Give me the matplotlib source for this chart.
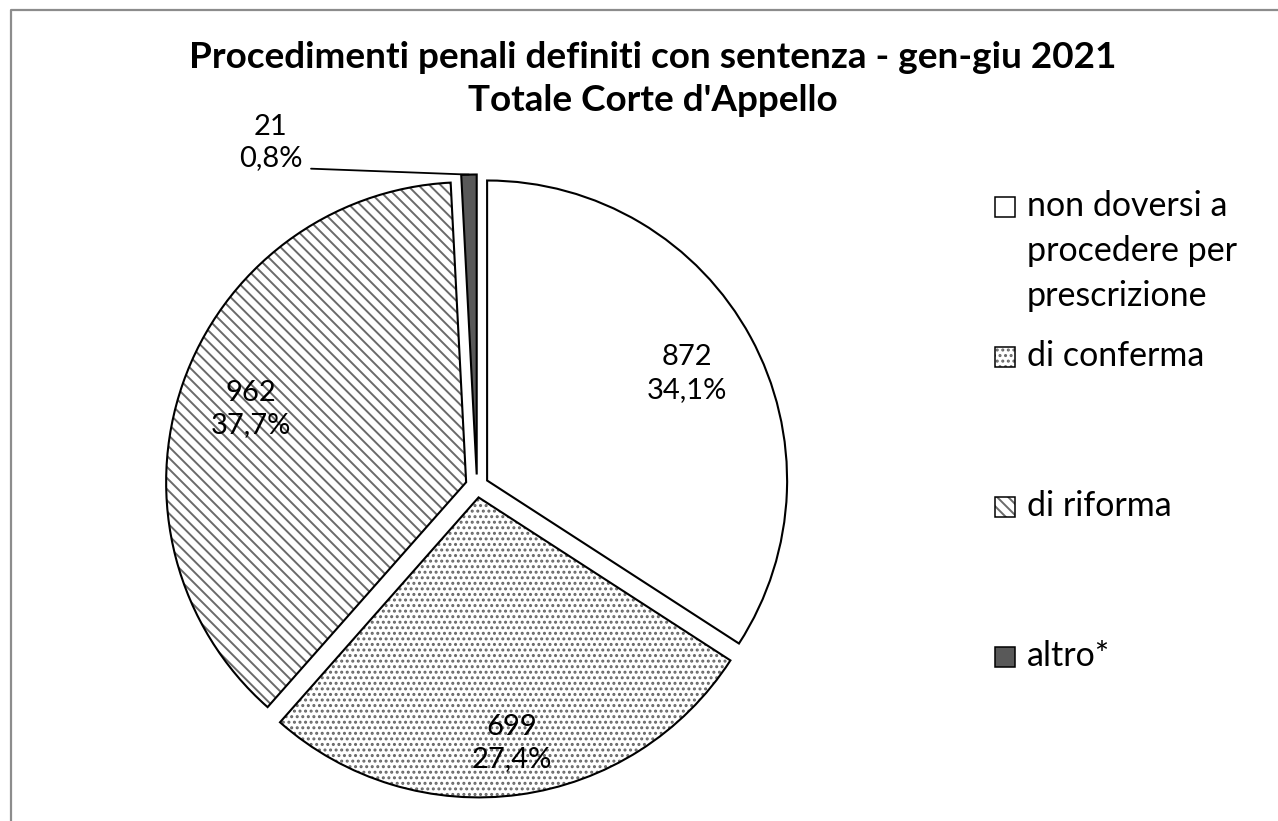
import matplotlib.pyplot as plt
import numpy as np
from matplotlib.patches import Rectangle

categories = ["non doversi a\nprocedere per\nprescrizione", "di conferma", "di riforma", "altro*"]
values = [872, 699, 962, 21]

face_colors = ["white", "white", "white", "#595959"]
hatches = [None, "...", "\\\\\\", None]
hatch_colors = ["#808080", "#666666", "#6a6a6a", "#595959"]
label_dist = [0.76, 0.82, 0.76, None]

plt.rcParams["font.family"] = ["Lato", "DejaVu Sans"]
plt.rcParams["hatch.linewidth"] = 1.4

W, H = 1278, 821
fig = plt.figure(figsize=(W / 100, H / 100), dpi=100)
ax = fig.add_axes([0, 0, 1, 1])

# pie laid out in pixel units
cx, cy, r = 477, H - 486, 300
expl = [11.5] * len(values)

# fill + hatch layer
wedges, _ = ax.pie(values, startangle=90, counterclock=False, center=(cx, cy),
                   radius=r, explode=expl, colors=face_colors,
                   wedgeprops=dict(linewidth=0))
for w, h, hc in zip(wedges, hatches, hatch_colors):
    w.set_edgecolor(hc)
    if h:
        w.set_hatch(h)

# outline layer
outline, _ = ax.pie(values, startangle=90, counterclock=False, center=(cx, cy),
                    radius=r, explode=expl,
                    wedgeprops=dict(fill=False, edgecolor="black", linewidth=1.5))

total = sum(values)
for w, v, d in zip(outline, values, label_dist):
    th = np.deg2rad((w.theta1 + w.theta2) / 2)
    pct = f"{v / total * 100:.1f}".replace(".", ",")
    txt = f"{v}\n{pct}%"
    x0, y0 = w.center
    if d is not None:
        ax.text(x0 + d * r * np.cos(th), y0 + d * r * np.sin(th) - 2, txt,
                ha="center", va="center", fontsize=21, linespacing=1.3)
    else:
        ax.annotate(txt, xy=(x0 + r * np.cos(th), y0 + r * np.sin(th)),
                    xytext=(-198, 32), textcoords="offset pixels",
                    ha="center", va="center", fontsize=21, linespacing=1.25,
                    arrowprops=dict(arrowstyle="-", color="black", lw=1.3,
                                    relpos=(1.0, 0.05), shrinkA=4, shrinkB=0))

# legend drawn by hand, Excel-style
for i, (lab, fc, h, hc) in enumerate(zip(categories, face_colors, hatches, hatch_colors)):
    yc = H - (207 + 150 * i)
    ax.add_patch(Rectangle((995, yc - 10), 20, 20, facecolor=fc, edgecolor=hc, lw=0, hatch=h))
    ax.add_patch(Rectangle((995, yc - 10), 20, 20, fill=False, edgecolor="black", lw=1.1))
    ax.text(1027, yc + 17, lab, ha="left", va="top", fontsize=24.5, linespacing=1.5)

ax.text(653, H - 79, "Procedimenti penali definiti con sentenza - gen-giu 2021\nTotale Corte d'Appello",
        ha="center", va="center", fontsize=26.6, fontweight="bold", linespacing=1.4)

# chart frame (top and left edge visible)
ax.plot([10.5, 10.5, W], [0, H - 9.5, H - 9.5], color="#8c8c8c", lw=1.6)

ax.set_xlim(0, W)
ax.set_ylim(0, H)
ax.set_aspect("equal")
ax.axis("off")

fig.savefig("out.png", dpi=100, facecolor="white")
